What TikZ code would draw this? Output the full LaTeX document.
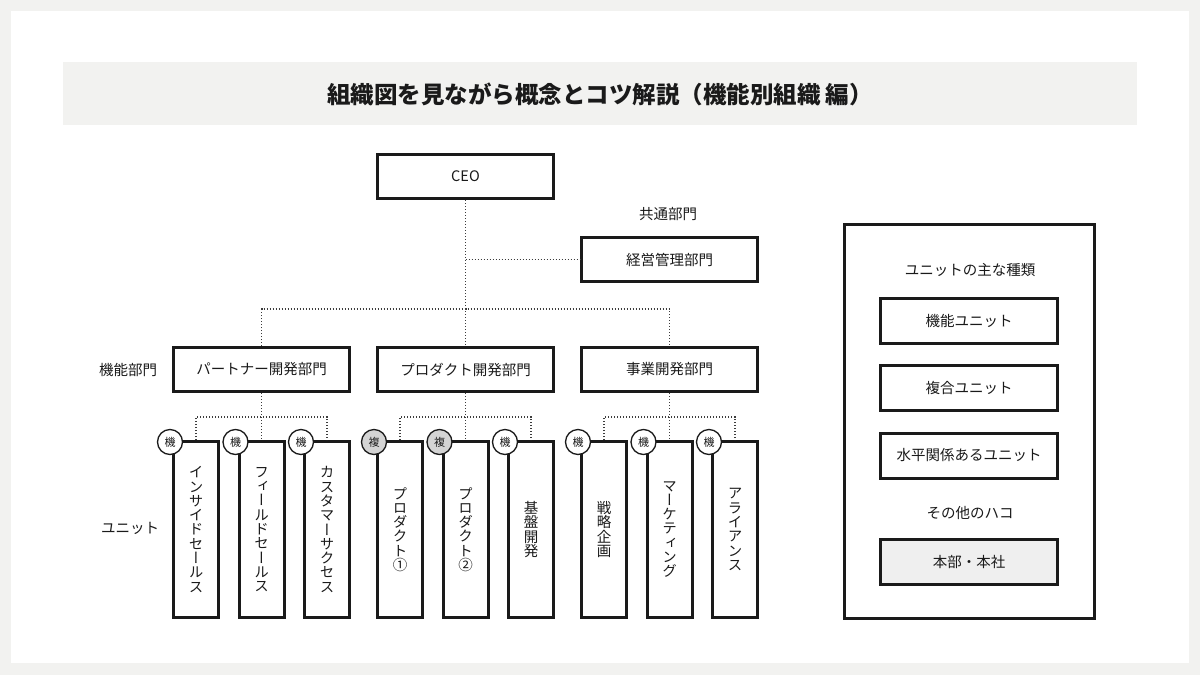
\documentclass[tikz,border=0pt]{standalone}
\usepackage{fontspec}
\setmainfont{Noto Sans CJK JP}
\newfontfamily\jpv{Noto Sans CJK JP}[RawFeature=+vert]
\usetikzlibrary{calc}
\definecolor{bgc}{HTML}{F2F2F0}
\definecolor{ink}{HTML}{1A1A1A}
\definecolor{badgegray}{HTML}{D4D4D4}
\definecolor{hqgray}{HTML}{EFEFEF}
\tikzset{
  box/.style={draw=ink, line width=3pt, fill=white, inner sep=0pt, minimum width=176pt, minimum height=44pt, text=ink, font=\fontsize{14.5}{14.5}\selectfont},
  unitbox/.style={draw=ink, line width=3pt, fill=white, inner sep=0pt, minimum width=45pt, minimum height=176pt, text=ink, align=center, font=\jpv\fontsize{14.5}{14.3}\selectfont},
  badge/.style={circle, draw=ink, line width=1.3pt, fill=white, minimum size=25pt, inner sep=0pt, text=ink, font=\fontsize{11}{11}\selectfont},
  badgec/.style={badge, fill=badgegray},
  conn/.style={draw=ink!85, line width=1.2pt, dash pattern=on 1.2pt off 1.8pt},
  lbl/.style={text=ink, inner sep=0pt, font=\fontsize{14.5}{14.5}\selectfont},
  rbox/.style={box, minimum width=177pt, minimum height=45pt}
}
\begin{document}
\begin{tikzpicture}[x=1pt,y=-1pt]
\useasboundingbox (0,0) rectangle (1200,675);
\fill[bgc] (0,0) rectangle (1200,675);
\fill[white] (11,11) rectangle (1189,663);
\fill[bgc] (63,62) rectangle (1137,125);
\node[text=ink, font=\bfseries\fontsize{23.5}{23.5}\selectfont] (title) at (600,94) {組織図を見ながら概念とコツ解説（機能別組織 編）};

% top level
\node[box] (ceo) at (465.5,176.5) {CEO};
\node[lbl] (kyotsu) at (668,214) {共通部門};
\node[box] (mgmt) at (669.5,259.5) {経営管理部門};

% departments
\node[lbl] (kinoubumon) at (128,370) {機能部門};
\node[box] (d1) at (261.5,369.5) {パートナー開発部門};
\node[box] (d2) at (465.5,369.5) {プロダクト開発部門};
\node[box] (d3) at (669.5,369.5) {事業開発部門};

% units
\node[lbl] (unitlbl) at (130,528) {ユニット};
\node[unitbox] (u1) at (196,529.5) {イ\\ン\\サ\\イ\\ド\\セ\\ー\\ル\\ス};
\node[unitbox] (u2) at (261.5,529.5) {フ\\ィ\\ー\\ル\\ド\\セ\\ー\\ル\\ス};
\node[unitbox] (u3) at (327,529.5) {カ\\ス\\タ\\マ\\ー\\サ\\ク\\セ\\ス};
\node[unitbox] (u4) at (400,529.5) {プ\\ロ\\ダ\\ク\\ト\\①};
\node[unitbox] (u5) at (465.5,529.5) {プ\\ロ\\ダ\\ク\\ト\\②};
\node[unitbox] (u6) at (531,529.5) {基\\盤\\開\\発};
\node[unitbox] (u7) at (604,529.5) {戦\\略\\企\\画};
\node[unitbox] (u8) at (669.5,529.5) {マ\\ー\\ケ\\テ\\ィ\\ン\\グ};
\node[unitbox] (u9) at (735,529.5) {ア\\ラ\\イ\\ア\\ン\\ス};

% connectors
\coordinate (j0) at (465.5,259.5);
\coordinate (hy) at (465.5,309);
\draw[conn] (ceo.south) -- (d2.north);
\draw[conn] (j0) -- (mgmt.west);
\draw[conn] (d1.north) |- (hy) -| (d3.north);
\coordinate (m1) at (261.5,417);
\coordinate (m2) at (465.5,417);
\coordinate (m3) at (669.5,417);
\draw[conn] (d1.south) -- (u2.north);
\draw[conn] (u1.north) |- (m1) -| (u3.north);
\draw[conn] (d2.south) -- (u5.north);
\draw[conn] (u4.north) |- (m2) -| (u6.north);
\draw[conn] (d3.south) -- (u8.north);
\draw[conn] (u7.north) |- (m3) -| (u9.north);

% badges
\node[badge]  (b1) at ($(u1.north west)+(-2,2)$) {機};
\node[badge]  (b2) at ($(u2.north west)+(-2,2)$) {機};
\node[badge]  (b3) at ($(u3.north west)+(-2,2)$) {機};
\node[badgec] (b4) at ($(u4.north west)+(-2,2)$) {複};
\node[badgec] (b5) at ($(u5.north west)+(-2,2)$) {複};
\node[badge]  (b6) at ($(u6.north west)+(-2,2)$) {機};
\node[badge]  (b7) at ($(u7.north west)+(-2,2)$) {機};
\node[badge]  (b8) at ($(u8.north west)+(-2,2)$) {機};
\node[badge]  (b9) at ($(u9.north west)+(-2,2)$) {機};

% legend panel
\node[draw=ink, line width=3pt, minimum width=250pt, minimum height=394pt, inner sep=0pt] (panel) at (969.5,421.5) {};
\node[lbl] (legtitle) at (970,270) {ユニットの主な種類};
\node[rbox] (k1) at (969,321) {機能ユニット};
\node[rbox] (k2) at (969,388) {複合ユニット};
\node[rbox] (k3) at (969,455.5) {水平関係あるユニット};
\node[lbl] (othert) at (970,513) {その他のハコ};
\node[rbox, fill=hqgray] (k4) at (969,562) {本部・本社};
\end{tikzpicture}
\end{document}
